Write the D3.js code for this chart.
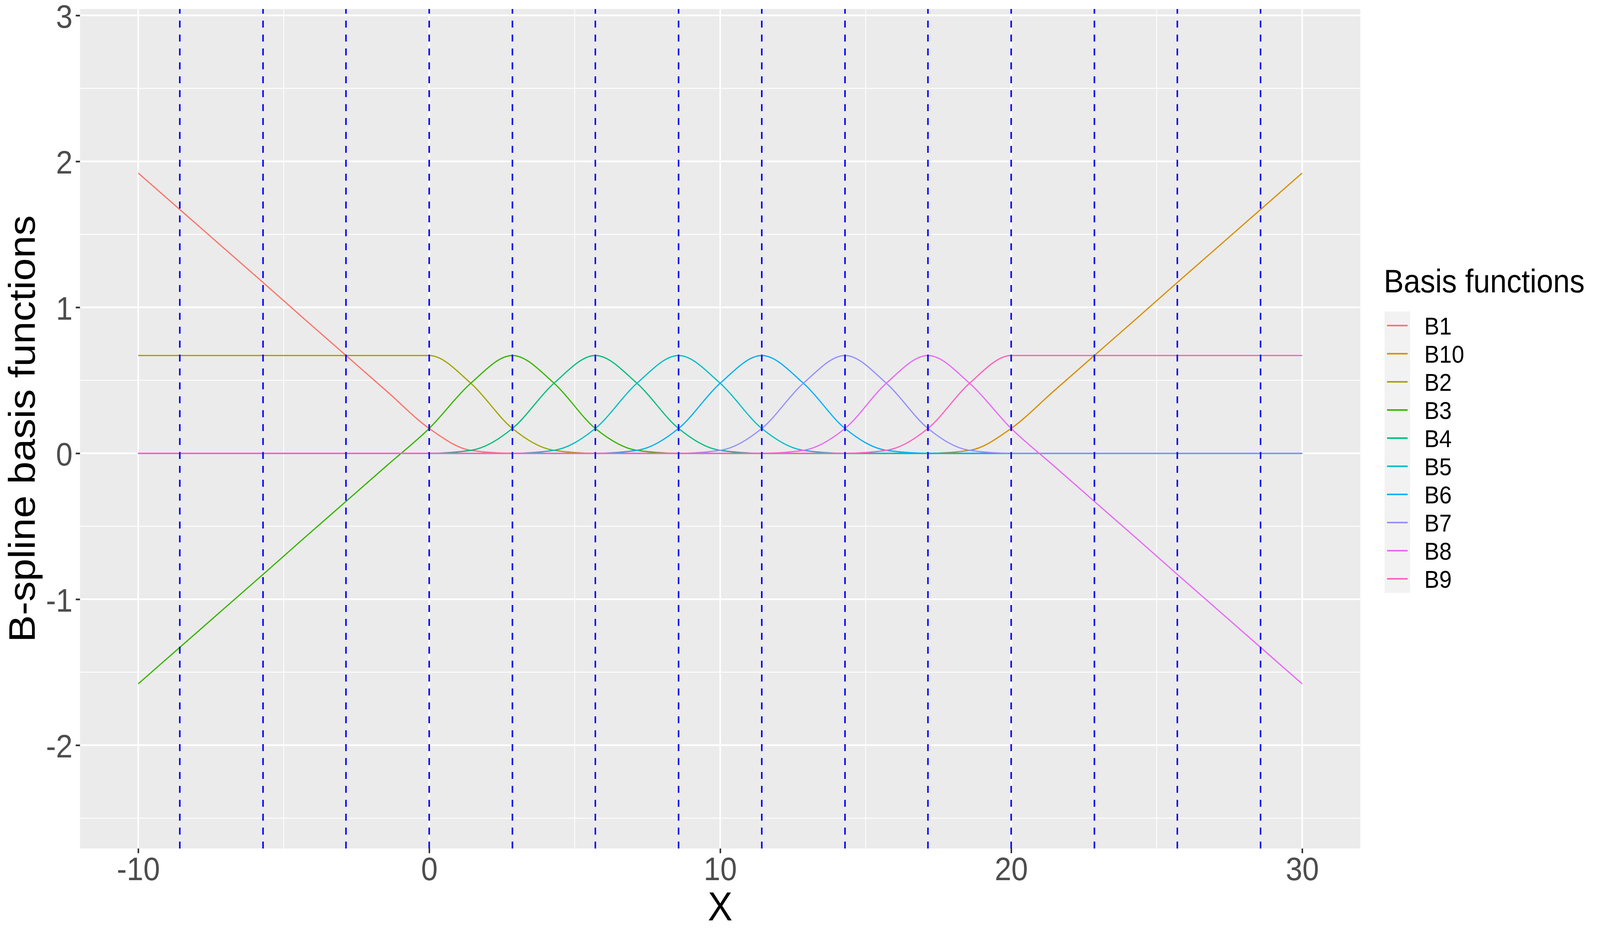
<!DOCTYPE html>
<html>
<head>
<meta charset="utf-8">
<script src="https://cdn.jsdelivr.net/npm/d3@7.9.0/dist/d3.min.js"></script>
<style>
  html, body { margin: 0; padding: 0; background: #ffffff; overflow: hidden; }
  svg { display: block; width: 100vw; height: 100vh; font-family: "Liberation Sans", Arial, sans-serif; }
</style>
</head>
<body>
<svg id="chart" viewBox="0 0 4500 2400" preserveAspectRatio="none"></svg>
<script>
// x grid where the curves were read (half a knot step)
const xs = [-10, -8.57, -7.14, -5.71, -4.29, -2.86, -1.43, 0, 1.43, 2.86, 4.29, 5.71, 7.14, 8.57, 10,
            11.43, 12.86, 14.29, 15.71, 17.14, 18.57, 20, 21.43, 22.86, 24.29, 25.71, 27.14, 28.57, 30];

// basis function values at each x
const B1  = [1.92, 1.67, 1.42, 1.17, 0.92, 0.67, 0.42, 0.17, 0.02, 0, 0, 0, 0, 0, 0, 0, 0, 0, 0, 0, 0, 0, 0, 0, 0, 0, 0, 0, 0];
const B2  = [0.67, 0.67, 0.67, 0.67, 0.67, 0.67, 0.67, 0.67, 0.48, 0.17, 0.02, 0, 0, 0, 0, 0, 0, 0, 0, 0, 0, 0, 0, 0, 0, 0, 0, 0, 0];
const B3  = [-1.58, -1.33, -1.08, -0.83, -0.58, -0.33, -0.08, 0.17, 0.48, 0.67, 0.48, 0.17, 0.02, 0, 0, 0, 0, 0, 0, 0, 0, 0, 0, 0, 0, 0, 0, 0, 0];
const B4  = [0, 0, 0, 0, 0, 0, 0, 0, 0.02, 0.17, 0.48, 0.67, 0.48, 0.17, 0.02, 0, 0, 0, 0, 0, 0, 0, 0, 0, 0, 0, 0, 0, 0];
const B5  = [0, 0, 0, 0, 0, 0, 0, 0, 0, 0, 0.02, 0.17, 0.48, 0.67, 0.48, 0.17, 0.02, 0, 0, 0, 0, 0, 0, 0, 0, 0, 0, 0, 0];
const B6  = [0, 0, 0, 0, 0, 0, 0, 0, 0, 0, 0, 0, 0.02, 0.17, 0.48, 0.67, 0.48, 0.17, 0.02, 0, 0, 0, 0, 0, 0, 0, 0, 0, 0];
const B7  = [0, 0, 0, 0, 0, 0, 0, 0, 0, 0, 0, 0, 0, 0, 0.02, 0.17, 0.48, 0.67, 0.48, 0.17, 0.02, 0, 0, 0, 0, 0, 0, 0, 0];
const B8  = [0, 0, 0, 0, 0, 0, 0, 0, 0, 0, 0, 0, 0, 0, 0, 0, 0.02, 0.17, 0.48, 0.67, 0.48, 0.17, -0.08, -0.33, -0.58, -0.83, -1.08, -1.33, -1.58];
const B9  = [0, 0, 0, 0, 0, 0, 0, 0, 0, 0, 0, 0, 0, 0, 0, 0, 0, 0, 0.02, 0.17, 0.48, 0.67, 0.67, 0.67, 0.67, 0.67, 0.67, 0.67, 0.67];
const B10 = [0, 0, 0, 0, 0, 0, 0, 0, 0, 0, 0, 0, 0, 0, 0, 0, 0, 0, 0, 0, 0.02, 0.17, 0.42, 0.67, 0.92, 1.17, 1.42, 1.67, 1.92];

// legend order (alphabetical, like the picture)
const seriesNames = ['B1', 'B10', 'B2', 'B3', 'B4', 'B5', 'B6', 'B7', 'B8', 'B9'];
const seriesValues = [B1, B10, B2, B3, B4, B5, B6, B7, B8, B9];
const seriesColors = ['#F8766D', '#D89000', '#A3A500', '#39B600', '#00BF7D',
                      '#00BFC4', '#00B0F6', '#9590FF', '#E76BF3', '#FF62BC'];

// knot positions (dashed lines)
const knots = [-8.57, -5.71, -2.86, 0, 2.86, 5.71, 8.57, 11.43, 14.29, 17.14, 20, 22.86, 25.71, 28.57];

const xTicks = [-10, 0, 10, 20, 30];
const xMinor = [-5, 5, 15, 25];
const yTicks = [-2, -1, 0, 1, 2, 3];
const yMinor = [-2.5, -1.5, -0.5, 0.5, 1.5, 2.5];

// panel geometry
const panel = { left: 225, right: 3826, top: 23, bottom: 2171 };

const svg = d3.select('#chart');
svg.append('rect').attr('width', 4500).attr('height', 2400).attr('fill', '#ffffff');

const x = d3.scaleLinear().domain([-12, 32]).range([panel.left, panel.right]);
const y = d3.scaleLinear().domain([-2.708, 3.044]).range([panel.bottom, panel.top]);

// panel background
svg.append('rect')
    .attr('x', panel.left).attr('y', panel.top)
    .attr('width', panel.right - panel.left)
    .attr('height', panel.bottom - panel.top)
    .attr('fill', '#EBEBEB');

// grid lines
const grid = svg.append('g');
grid.selectAll('.ymin').data(yMinor).join('line')
    .attr('x1', panel.left).attr('x2', panel.right)
    .attr('y1', d => y(d)).attr('y2', d => y(d))
    .attr('stroke', '#ffffff').attr('stroke-width', 2.2);
grid.selectAll('.xmin').data(xMinor).join('line')
    .attr('y1', panel.top).attr('y2', panel.bottom)
    .attr('x1', d => x(d)).attr('x2', d => x(d))
    .attr('stroke', '#ffffff').attr('stroke-width', 2.2);
grid.selectAll('.ymaj').data(yTicks).join('line')
    .attr('x1', panel.left).attr('x2', panel.right)
    .attr('y1', d => y(d)).attr('y2', d => y(d))
    .attr('stroke', '#ffffff').attr('stroke-width', 4.3);
grid.selectAll('.xmaj').data(xTicks).join('line')
    .attr('y1', panel.top).attr('y2', panel.bottom)
    .attr('x1', d => x(d)).attr('x2', d => x(d))
    .attr('stroke', '#ffffff').attr('stroke-width', 4.3);

// basis curves
const line = d3.line()
    .x((d, i) => x(xs[i]))
    .y(d => y(d))
    .curve(d3.curveMonotoneX);

svg.append('g').selectAll('path').data(seriesValues).join('path')
    .attr('d', d => line(d))
    .attr('fill', 'none')
    .attr('stroke', (d, i) => seriesColors[i])
    .attr('stroke-width', 3.3);

// dashed knot lines, drawn from the bottom up
svg.append('g').selectAll('line').data(knots).join('line')
    .attr('x1', d => x(d)).attr('x2', d => x(d))
    .attr('y1', panel.bottom).attr('y2', panel.top)
    .attr('stroke', '#0000FF')
    .attr('stroke-width', 4.3)
    .attr('stroke-dasharray', '17.8 17.8');

// axes
const fmt = d => String(d);
const xAxis = svg.append('g')
    .attr('transform', `translate(0,${panel.bottom})`)
    .call(d3.axisBottom(x).tickValues(xTicks).tickFormat(fmt).tickSize(12).tickPadding(9));
const yAxis = svg.append('g')
    .attr('transform', `translate(${panel.left},0)`)
    .call(d3.axisLeft(y).tickValues(yTicks).tickFormat(fmt).tickSize(12).tickPadding(9));

[xAxis, yAxis].forEach(ax => {
    ax.select('.domain').remove();
    ax.selectAll('.tick line').attr('stroke', '#333333').attr('stroke-width', 4.3);
    ax.selectAll('.tick text')
        .attr('fill', '#4D4D4D')
        .style('font-size', '84px')
        .style('font-family', '"Liberation Sans", Arial, sans-serif');
});
yAxis.selectAll('.tick text').attr('dy', '0.37em');

// axis titles
svg.append('text')
    .attr('x', (panel.left + panel.right) / 2)
    .attr('y', 2355)
    .attr('text-anchor', 'middle')
    .style('font-size', '104px')
    .attr('fill', '#000000')
    .text('X');

svg.append('text')
    .attr('transform', `translate(98,${(panel.top + panel.bottom) / 2}) rotate(-90)`)
    .attr('text-anchor', 'middle')
    .style('font-size', '104px')
    .attr('fill', '#000000')
    .text('B-spline basis functions');

// legend
const legend = svg.append('g');
legend.append('text')
    .attr('x', 3892).attr('y', 748)
    .style('font-size', '84px')
    .attr('fill', '#000000')
    .text('Basis functions');

const keyTop = 797, keySize = 72;
const items = legend.selectAll('.item').data(seriesNames).join('g')
    .attr('transform', (d, i) => `translate(3894,${keyTop + i * keySize})`);
items.append('rect')
    .attr('width', keySize).attr('height', keySize)
    .attr('fill', '#F2F2F2');
items.append('line')
    .attr('x1', 7).attr('x2', 65)
    .attr('y1', keySize / 2).attr('y2', keySize / 2)
    .attr('stroke', (d, i) => seriesColors[i])
    .attr('stroke-width', 4);
items.append('text')
    .attr('x', 112).attr('y', keySize / 2 + 23)
    .style('font-size', '63px')
    .attr('fill', '#000000')
    .text(d => d);
</script>
</body>
</html>
